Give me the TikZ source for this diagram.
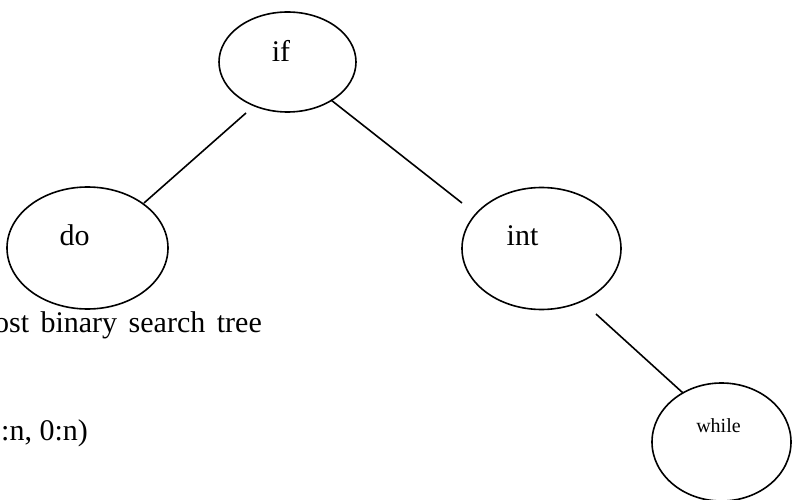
\documentclass[tikz,border=0pt]{standalone}
\usepackage{fontspec}
\setmainfont{Liberation Serif}
\usetikzlibrary{shapes.geometric}
\begin{document}
\begin{tikzpicture}[x=1pt,y=-1pt,
  oval/.style={draw=black, line width=1.6pt, ellipse, inner sep=0pt},
  lbl/.style={anchor=base, inner sep=0pt, font=\fontsize{30}{36}\selectfont},
  smalllbl/.style={anchor=base, inner sep=0pt, font=\fontsize{20}{24}\selectfont},
  txt/.style={inner sep=0pt, font=\fontsize{30}{36}\selectfont},
  edge/.style={draw=black, line width=1.6pt}]
\useasboundingbox (0,0) rectangle (793,500);
\fill[white] (0,0) rectangle (793,500);

% tree nodes
\node[oval, minimum width=137pt, minimum height=100pt] (if) at (287.5,62) {};
\node[oval, minimum width=161pt, minimum height=122pt] (do) at (87.5,248) {};
\node[oval, minimum width=159pt, minimum height=122pt] (int) at (541.5,248.5) {};
\node[oval, minimum width=139pt, minimum height=118pt] (while) at (721.5,442) {};

% node labels
\node[lbl] (if-t) at (281,62) {if};
\node[lbl] (do-t) at (74.5,245) {do};
\node[lbl] (int-t) at (522.5,245) {int};
\node[smalllbl] (while-t) at (718.5,432) {while};

% connector end points
\coordinate (if-l) at (246,113);
\coordinate (do-u) at (144,203);
\coordinate (if-r) at (331,100);
\coordinate (int-u) at (462,203);
\coordinate (int-d) at (596,314);
\coordinate (while-u) at (683,393);

\draw[edge] (if-l) -- (do-u);
\draw[edge] (if-r) -- (int-u);
\draw[edge] (int-d) -- (while-u);

% running text
\node[txt, anchor=base east] (caption) at (262,332) {\spaceskip=11.5pt ost binary search tree};
\node[txt, anchor=base west] (range) at (1,440) {:n, 0:n)};
\end{tikzpicture}
\end{document}
